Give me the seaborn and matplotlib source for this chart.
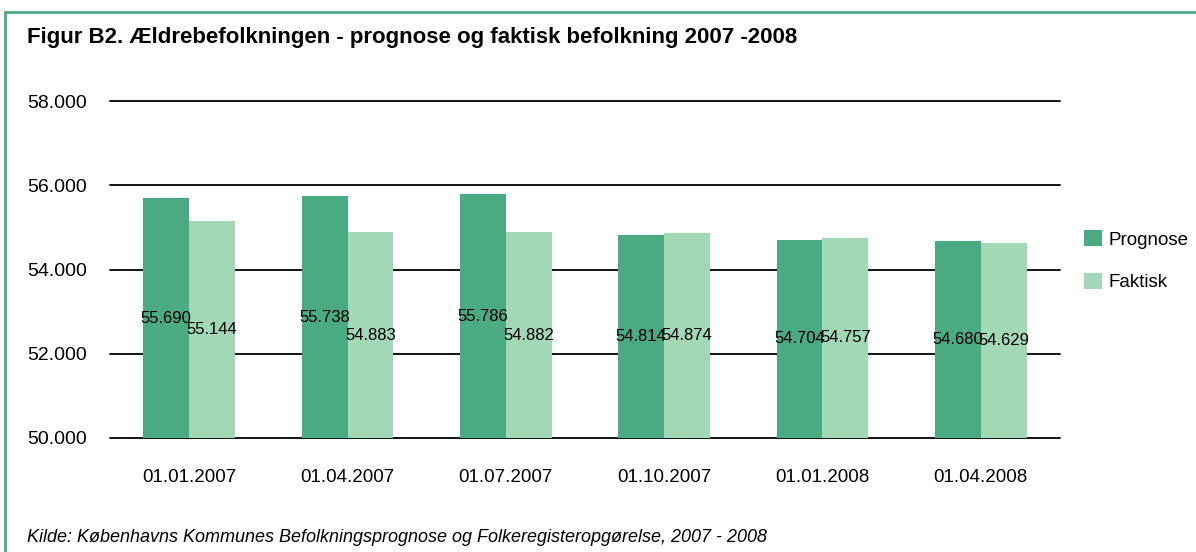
import matplotlib
matplotlib.use("Agg")
import matplotlib.pyplot as plt
import seaborn as sns
import pandas as pd
from matplotlib.patches import Patch
from matplotlib.lines import Line2D

dates = ["01.01.2007", "01.04.2007", "01.07.2007", "01.10.2007", "01.01.2008", "01.04.2008"]
prognose = [55690, 55738, 55786, 54814, 54704, 54680]
faktisk = [55144, 54883, 54882, 54874, 54757, 54629]
series = ["Prognose", "Faktisk"]
yticks = [50000, 52000, 54000, 56000, 58000]

title = "Figur B2. Ældrebefolkningen - prognose og faktisk befolkning 2007 -2008"
source = "Kilde: Københavns Kommunes Befolkningsprognose og Folkeregisteropgørelse, 2007 - 2008"

dark = "#4AAA82"
light = "#A3D8B6"
border = "#4DAA84"

df = pd.DataFrame({
    "dato": dates * 2,
    "serie": [series[0]] * len(dates) + [series[1]] * len(dates),
    "værdi": prognose + faktisk,
})

sns.set_theme(style="white")
plt.rcParams["font.family"] = ["Liberation Sans", "DejaVu Sans"]
plt.rcParams["text.color"] = "black"

fig = plt.figure(figsize=(11.96, 5.52), dpi=100)
ax = fig.add_axes([110 / 1196, 1 - 438 / 552, 950 / 1196, (438 - 101) / 552])

sns.barplot(data=df, x="dato", y="værdi", hue="serie", order=dates, hue_order=series,
            palette=[dark, light], width=0.58, saturation=1, ax=ax, legend=False,
            edgecolor="none", linewidth=0)

ax.set_ylim(50000, 58000)
ax.set_xlim(-0.5, len(dates) - 0.5)
ax.set_yticks(yticks)
ax.set_yticklabels([f"{v:,}".replace(",", ".") for v in yticks], fontsize=14, color="black")
for lbl in ax.get_yticklabels():
    lbl.set_horizontalalignment("left")
ax.tick_params(axis="y", length=0, pad=(110 - 27) * 0.72)
ax.tick_params(axis="x", length=0, pad=22, labelsize=13.5, labelcolor="black")
ax.set_xlabel("")
ax.set_ylabel("")
for s in ax.spines.values():
    s.set_visible(False)
ax.set_axisbelow(True)
for y in yticks:
    ax.axhline(y, color="black", linewidth=1.3, zorder=0, clip_on=False)

for p in ax.patches:
    h = p.get_height()
    if h <= 0:
        continue
    ax.text(p.get_x() + p.get_width() / 2, (50000 + h) / 2, f"{int(round(h)):,}".replace(",", "."),
            ha="center", va="center", fontsize=12, color="black", zorder=5)

handles = [Patch(facecolor=dark, edgecolor="none"), Patch(facecolor=light, edgecolor="none")]
fig.legend(handles, series, loc="upper left", bbox_to_anchor=(1084 / 1196, 1 - 230 / 552),
           frameon=False, fontsize=13.5, handlelength=0.95, handleheight=0.95,
           labelspacing=1.3, handletextpad=0.35, borderaxespad=0, borderpad=0)

fig.text(27 / 1196, 1 - 38 / 552, title, fontsize=16, fontweight="bold", ha="left", va="center",
         color="black")
fig.text(27 / 1196, 1 - 537 / 552, source, fontsize=13, style="italic", ha="left", va="center",
         color="black")

fig.add_artist(Line2D([5 / 1196, 1], [1 - 12 / 552, 1 - 12 / 552], transform=fig.transFigure,
                      color=border, linewidth=2))
fig.add_artist(Line2D([5 / 1196, 5 / 1196], [0, 1 - 12 / 552], transform=fig.transFigure,
                      color=border, linewidth=2))

fig.savefig("out.png", dpi=100)
